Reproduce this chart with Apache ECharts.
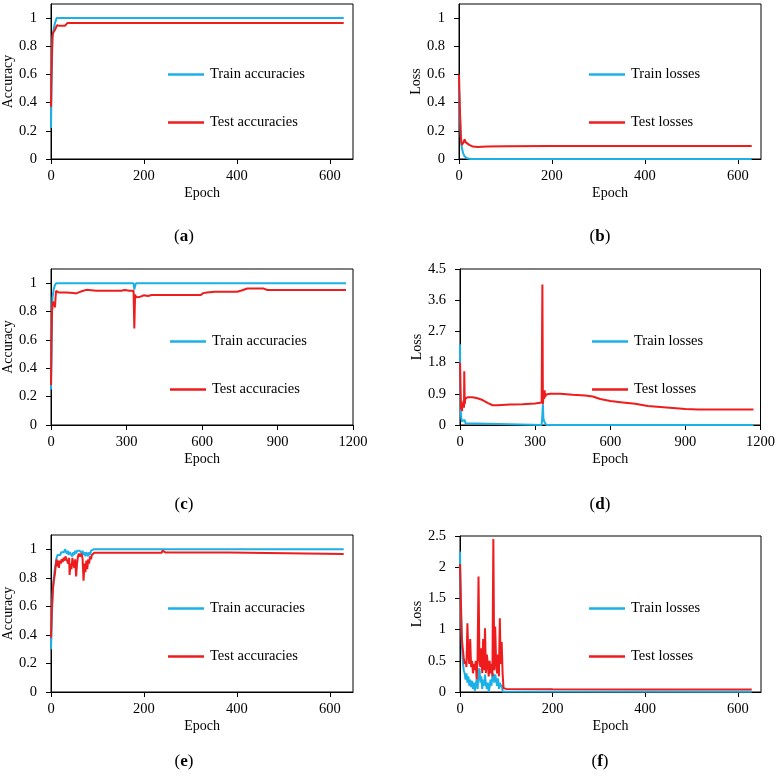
<!DOCTYPE html>
<html>
<head>
<meta charset="utf-8">
<title>Accuracy / Loss</title>
<script src="https://cdn.jsdelivr.net/npm/echarts@6.0.0/dist/echarts.min.js"></script>
<style>
  html, body { margin: 0; padding: 0; background: #fff; }
  #chart { width: 778px; height: 778px; }
</style>
</head>
<body>
<div id="chart"></div>
<script>
// ---- 数据 ----
// (a) accuracy, run 1
var epochTrainAccA = [0, 1, 3, 6, 9, 12, 630];
var trainAccA      = [0.22, 0.5, 0.85, 0.93, 0.97, 1.0, 1.0];
var epochTestAccA  = [0, 1, 3, 5, 7, 9, 11, 13, 16, 18, 30, 32, 35, 630];
var testAccA       = [0.37, 0.6, 0.88, 0.9, 0.9, 0.92, 0.93, 0.95, 0.955, 0.945, 0.945, 0.95, 0.965, 0.965];

// (b) loss, run 1
var epochTrainLossB = [0, 2, 4, 6, 9, 12, 17, 25, 630];
var trainLossB      = [0.5, 0.3, 0.15, 0.08, 0.04, 0.02, 0.005, 0, 0];
var epochTestLossB  = [0, 2, 4, 6, 8, 10, 12, 14, 17, 22, 30, 40, 60, 100, 200, 400, 630];
var testLossB       = [0.6, 0.35, 0.15, 0.1, 0.09, 0.12, 0.14, 0.12, 0.11, 0.1, 0.088, 0.085, 0.088, 0.09, 0.093, 0.092, 0.092];

// (c) accuracy, run 2
var epochTrainAccC = [0, 2, 4, 6, 10, 14, 20, 328, 331, 334, 338, 1172];
var trainAccC      = [0.25, 0.5, 0.8, 0.9, 0.95, 0.98, 1.0, 1.0, 0.955, 0.98, 1.0, 1.0];
var epochTestAccC  = [0, 2, 4, 6, 8, 10, 12, 14, 16, 18, 20, 25, 30, 60, 90, 100, 110, 125, 140, 160, 180, 280, 290, 300, 310, 328,
                      331, 334, 338, 345, 355, 370, 385, 400, 595, 605, 620, 650, 740, 760, 780, 845, 860, 1172];
var testAccC       = [0.28, 0.6, 0.8, 0.85, 0.87, 0.88, 0.86, 0.88, 0.83, 0.9, 0.945, 0.94, 0.935, 0.935, 0.93, 0.928, 0.935, 0.945, 0.953, 0.95, 0.946, 0.946, 0.952, 0.95, 0.946, 0.946,
                      0.68, 0.92, 0.9, 0.91, 0.905, 0.915, 0.91, 0.917, 0.917, 0.93, 0.935, 0.94, 0.94, 0.95, 0.962, 0.962, 0.952, 0.952];

// (d) loss, run 2
var epochTrainLossD = [0, 1, 3, 5, 8, 11, 14, 18, 22, 26, 326, 329, 331, 333, 336, 340, 345, 1172];
var trainLossD      = [2.33, 1.2, 0.4, 0.2, 0.1, 0.15, 0.12, 0.15, 0.05, 0, 0, 0.3, 0.6, 0.2, 0.1, 0.05, 0, 0];
var epochTestLossD  = [0, 2, 4, 6, 8, 10, 12, 14, 16, 17, 19, 21, 24, 30, 50, 70, 90, 110, 130, 150, 200, 250, 300, 326,
                       329, 331, 334, 336, 338, 340, 344, 360, 400, 450, 500, 530, 560, 600, 650, 700, 750, 800, 850, 900, 950, 1172];
var testLossD       = [1.8, 1.0, 0.45, 0.55, 0.4, 0.65, 0.5, 0.7, 0.5, 1.55, 0.6, 0.75, 0.8, 0.8, 0.8, 0.77, 0.72, 0.64, 0.57, 0.57, 0.59, 0.6, 0.62, 0.65,
                       4.05, 0.6, 0.9, 0.75, 1.0, 0.8, 0.88, 0.9, 0.9, 0.87, 0.85, 0.82, 0.75, 0.69, 0.65, 0.61, 0.55, 0.52, 0.49, 0.46, 0.45, 0.45];

// (e) accuracy, run 3
var epochTrainAccE = [0, 2, 4, 6, 8, 10, 12, 14, 16, 18, 20, 22, 24, 26, 28, 30, 32, 34, 36, 38, 40, 42, 44, 46, 48, 50,
                      52, 54, 56, 58, 60, 62, 64, 66, 68, 70, 72, 74, 76, 78, 80, 82, 84, 86, 88, 90, 92, 630];
var trainAccE      = [0.3, 0.55, 0.72, 0.8, 0.86, 0.9, 0.94, 0.96, 0.95, 0.97, 0.96, 0.98, 0.97, 0.99, 0.98, 1.0, 0.99, 0.97, 0.99, 0.96, 0.98, 0.99, 0.97, 0.95, 0.98, 0.96,
                      0.99, 0.97, 0.99, 1.0, 0.98, 0.99, 1.0, 0.97, 0.99, 0.96, 0.98, 0.95, 0.98, 0.97, 0.95, 0.98, 0.96, 0.99, 0.98, 1.0, 1.0, 1.0];
var epochTestAccE  = [0, 2, 4, 6, 8, 10, 12, 13, 15, 17, 19, 21, 23, 25, 27, 29, 31, 33, 35, 37, 39, 40, 42, 44, 46, 48, 50,
                      52, 54, 56, 58, 60, 62, 64, 66, 68, 70, 72, 74, 76, 78, 80, 82, 84, 86, 88, 90, 93, 238, 240, 243, 246, 383, 386, 630];
var testAccE       = [0.38, 0.6, 0.72, 0.78, 0.82, 0.88, 0.93, 0.88, 0.92, 0.87, 0.92, 0.9, 0.93, 0.91, 0.94, 0.92, 0.95, 0.94, 0.96, 0.9, 0.94, 0.82, 0.9, 0.86, 0.94, 0.9, 0.87,
                      0.93, 0.81, 0.9, 0.95, 0.97, 0.95, 0.96, 0.97, 0.93, 0.78, 0.9, 0.84, 0.92, 0.86, 0.93, 0.9, 0.95, 0.93, 0.96, 0.95, 0.975, 0.975, 0.99, 0.99, 0.978, 0.978, 0.967, 0.967];

// (f) loss, run 3
var epochTrainLossF = [0, 2, 4, 6, 8, 10, 12, 14, 16, 18, 20, 22, 24, 26, 28, 30, 32, 34, 36, 38, 40, 42, 44, 46, 48, 50,
                       52, 54, 56, 58, 60, 62, 64, 66, 68, 70, 72, 74, 76, 78, 80, 82, 84, 86, 88, 90, 92, 630];
var trainLossF      = [2.25, 1.3, 0.75, 0.5, 0.35, 0.3, 0.2, 0.3, 0.15, 0.25, 0.1, 0.2, 0.08, 0.18, 0.05, 0.15, 0.02, 0.12, 0.2, 0.05, 0.3, 0.38, 0.15, 0.25, 0.05, 0.2,
                       0.1, 0.28, 0.12, 0.05, 0.15, 0.0, 0.08, 0.2, 0.1, 0.25, 0.3, 0.15, 0.28, 0.2, 0.1, 0.22, 0.05, 0.15, 0.08, 0.12, 0.01, 0.005];
var epochTestLossF  = [0, 2, 4, 6, 8, 10, 12, 14, 16, 18, 20, 22, 24, 26, 28, 30, 32, 34, 36, 38, 40, 42, 44, 46, 48, 50,
                       52, 54, 56, 58, 60, 62, 64, 66, 68, 70, 72, 74, 76, 78, 80, 82, 84, 86, 88, 90, 92, 94, 100, 200, 400, 630];
var testLossF       = [2.05, 1.4, 0.85, 0.7, 0.55, 0.45, 0.5, 0.4, 1.1, 0.6, 0.45, 0.85, 0.4, 0.5, 0.3, 0.45, 0.35, 0.5, 0.2, 0.55, 1.85, 0.5, 0.4, 0.7, 0.3, 0.85,
                       0.35, 1.02, 0.3, 0.6, 0.45, 0.25, 0.5, 0.3, 0.45, 0.25, 2.45, 0.35, 1.05, 0.45, 0.3, 0.6, 0.25, 1.18, 0.45, 0.8, 0.3, 0.06, 0.05, 0.045, 0.04, 0.04];

// 刻度
var ticksX650  = [0, 200, 400, 600];
var ticksX1200 = [0, 300, 600, 900, 1200];
var ticksAcc   = [0, 0.2, 0.4, 0.6, 0.8, 1];
var ticksLoss1 = [0, 0.2, 0.4, 0.6, 0.8, 1];
var ticksLoss2 = [0, 0.9, 1.8, 2.7, 3.6, 4.5];
var ticksLoss3 = [0, 0.5, 1, 1.5, 2, 2.5];

var captions = ['a', 'b', 'c', 'd', 'e', 'f'];

// ---- 样式 ----
var FONT = 'Liberation Serif, Times New Roman, serif';
var BLUE = '#1bb0e6';
var RED = '#ee1c1c';

var myChart = echarts.init(document.getElementById('chart'));

// 六个子图的位置
var grids = [
  {left: 51,  top: 4,   width: 302, height: 155},
  {left: 459, top: 4,   width: 302, height: 155},
  {left: 51,  top: 269, width: 302, height: 156},
  {left: 460, top: 269, width: 301, height: 156},
  {left: 51,  top: 535, width: 302, height: 157},
  {left: 460, top: 536, width: 301, height: 156}
];

function pairs(xs, ys) {
  var out = [];
  for (var i = 0; i < xs.length; i++) out.push([xs[i], ys[i]]);
  return out;
}

//刻度文字不要千分位
function plain(v) {
  return String(v);
}

function xAxisCfg(idx, max, ticks) {
  return {
    type: 'value', gridIndex: idx, min: 0, max: max,
    name: 'Epoch', nameLocation: 'middle', nameGap: 27,
    nameTextStyle: {color: '#000', fontFamily: FONT, fontSize: 14},
    axisLine: {show: true, onZero: false, lineStyle: {color: '#000', width: 1}},
    axisTick: {show: true, inside: false, length: 5, customValues: ticks, lineStyle: {color: '#000'}},
    axisLabel: {customValues: ticks, formatter: plain, margin: 10, color: '#000', fontFamily: FONT, fontSize: 14.5},
    splitLine: {show: false}
  };
}

function yAxisCfg(idx, name, max, ticks, gap) {
  return {
    type: 'value', gridIndex: idx, min: 0, max: max,
    name: name, nameLocation: 'middle', nameGap: gap, nameRotate: 90,
    nameTextStyle: {color: '#000', fontFamily: FONT, fontSize: 14},
    axisLine: {show: true, onZero: false, lineStyle: {color: '#000', width: 1}},
    axisTick: {show: true, inside: false, length: 5, customValues: ticks, lineStyle: {color: '#000'}},
    axisLabel: {customValues: ticks, formatter: plain, margin: 14, color: '#000', fontFamily: FONT, fontSize: 14.5},
    splitLine: {show: false}
  };
}

function lineSeries(name, idx, data, color) {
  return {
    name: name, type: 'line', xAxisIndex: idx, yAxisIndex: idx,
    data: data, symbol: 'none', smooth: false,
    lineStyle: {color: color, width: 2},
    itemStyle: {color: color}
  };
}

//图例: 只画一段线
function legendCfg(names, left, top) {
  return {
    data: names, orient: 'vertical', left: left, top: top,
    icon: 'rect', itemWidth: 36, itemHeight: 2.5, itemGap: 33, padding: 0,
    selectedMode: false,
    textStyle: {color: '#000', fontFamily: FONT, fontSize: 14.5, padding: [0, 0, 0, 1]}
  };
}

var accNames = ['Train accuracies', 'Test accuracies'];
var lossNames = ['Train losses', 'Test losses'];

var option = {
  animation: false,
  backgroundColor: '#fff',
  grid: grids.map(function (g) {
    return {left: g.left, top: g.top, width: g.width, height: g.height, show: true,
            borderColor: '#000', borderWidth: 1, backgroundColor: 'transparent'};
  }),
  xAxis: [
    xAxisCfg(0, 650, ticksX650),
    xAxisCfg(1, 650, ticksX650),
    xAxisCfg(2, 1200, ticksX1200),
    xAxisCfg(3, 1200, ticksX1200),
    xAxisCfg(4, 650, ticksX650),
    xAxisCfg(5, 650, ticksX650)
  ],
  yAxis: [
    yAxisCfg(0, 'Accuracy', 1.1, ticksAcc, 34),
    yAxisCfg(1, 'Loss', 1.1, ticksLoss1, 34),
    yAxisCfg(2, 'Accuracy', 1.1, ticksAcc, 34),
    yAxisCfg(3, 'Loss', 4.5, ticksLoss2, 34),
    yAxisCfg(4, 'Accuracy', 1.1, ticksAcc, 34),
    yAxisCfg(5, 'Loss', 2.5, ticksLoss3, 34)
  ],
  legend: [
    legendCfg(accNames, 168, 67),
    legendCfg(lossNames, 589, 67),
    legendCfg(accNames, 170, 334),
    legendCfg(lossNames, 592, 334),
    legendCfg(accNames, 168, 601),
    legendCfg(lossNames, 589, 601)
  ],
  series: [
    lineSeries('Train accuracies', 0, pairs(epochTrainAccA, trainAccA), BLUE),
    lineSeries('Test accuracies', 0, pairs(epochTestAccA, testAccA), RED),
    lineSeries('Train losses', 1, pairs(epochTrainLossB, trainLossB), BLUE),
    lineSeries('Test losses', 1, pairs(epochTestLossB, testLossB), RED),
    lineSeries('Train accuracies', 2, pairs(epochTrainAccC, trainAccC), BLUE),
    lineSeries('Test accuracies', 2, pairs(epochTestAccC, testAccC), RED),
    lineSeries('Train losses', 3, pairs(epochTrainLossD, trainLossD), BLUE),
    lineSeries('Test losses', 3, pairs(epochTestLossD, testLossD), RED),
    lineSeries('Train accuracies', 4, pairs(epochTrainAccE, trainAccE), BLUE),
    lineSeries('Test accuracies', 4, pairs(epochTestAccE, testAccE), RED),
    lineSeries('Train losses', 5, pairs(epochTrainLossF, trainLossF), BLUE),
    lineSeries('Test losses', 5, pairs(epochTestLossF, testLossF), RED)
  ],
  // 子图标号 (a)-(f)
  graphic: captions.map(function (c, i) {
    var cx = (i % 2 === 0) ? 184 : 600;
    var cy = [237, 237, 505, 505, 762, 762][i];
    return {
      type: 'text', x: cx, y: cy,
      style: {
        text: '({b|' + c + '})',
        fill: '#000', font: '17px ' + FONT,
        textAlign: 'center', textVerticalAlign: 'middle',
        rich: {b: {fontWeight: 'bold', fontSize: 17, fontFamily: FONT, fill: '#000'}}
      }
    };
  })
};
myChart.setOption(option);
</script>
</body>
</html>
